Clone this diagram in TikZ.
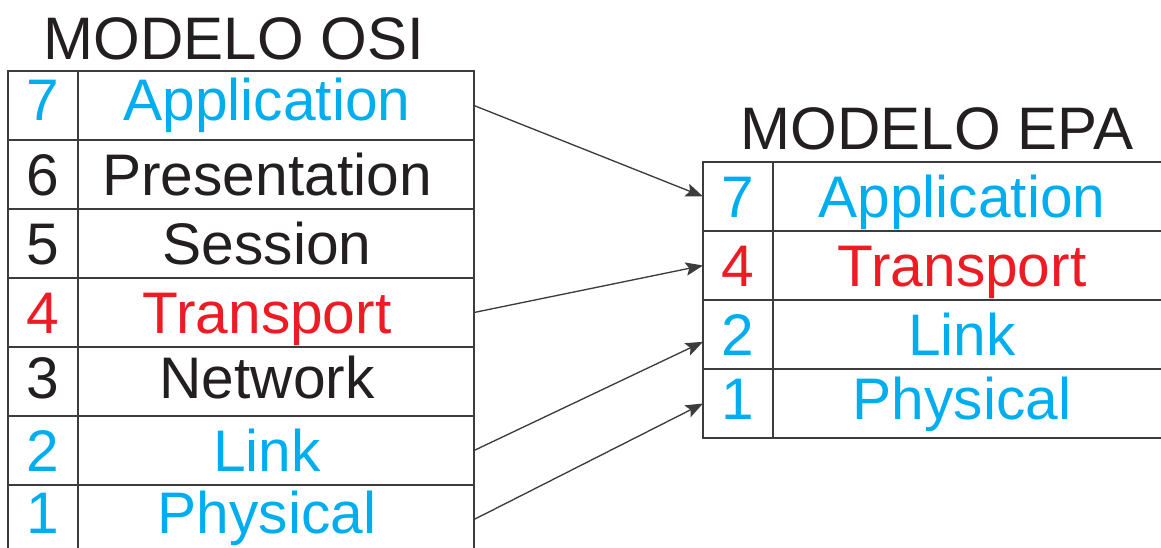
\documentclass[tikz,border=0pt]{standalone}
\usepackage{fontspec}
\setmainfont{Liberation Sans}
\usetikzlibrary{positioning, arrows.meta}
\definecolor{osiblue}{HTML}{00AEEF}
\definecolor{osired}{HTML}{ED1C24}
\definecolor{osiblack}{HTML}{231F20}
\definecolor{rulegray}{HTML}{3C3C3C}

\begin{document}
\begin{tikzpicture}[x=0.75pt, y=-0.75pt, node distance=0pt]
\tikzstyle{num} = [rectangle, draw=rulegray, line width=1.3pt, outer sep=0pt,
    inner sep=0pt, minimum width=52.5pt, minimum height=51.75pt,
    font=\fontsize{44}{44}\selectfont, text height=31.5pt, text depth=0pt]
\tikzstyle{layer} = [num, minimum width=297pt,
    execute at begin node={\hspace*{-13.5pt}}]
\tikzstyle{lift} = [text depth=#1]
\tikzstyle{title} = [font=\fontsize{45}{45}\selectfont, text=osiblack,
    inner sep=0pt, anchor=base]
\tikzstyle{line} = [draw=rulegray, line width=1pt,
    -{Stealth[length=13pt, width=10pt, inset=2.5pt]}]

\path[use as bounding box, clip] (0,0) rectangle (1161,547);

% OSI model
\node (osi) [title] at (234,59) {MODELO OSI};
\node (o7n) [num, text=osiblue, anchor=north west, lift=9pt] at (8,71) {7};
\node (o7) [layer, text=osiblue, right=of o7n, lift=9pt] {Application};
\node (o6n) [num, text=osiblack, below=of o7n] {6};
\node (o6) [layer, text=osiblack, right=of o6n] {Presentation};
\node (o5n) [num, text=osiblack, below=of o6n] {5};
\node (o5) [layer, text=osiblack, right=of o5n] {Session};
\node (o4n) [num, text=osired, below=of o5n] {4};
\node (o4) [layer, text=osired, right=of o4n] {Transport};
\node (o3n) [num, text=osiblack, below=of o4n, lift=6pt] {3};
\node (o3) [layer, text=osiblack, right=of o3n, lift=6pt] {Network};
\node (o2n) [num, text=osiblue, below=of o3n] {2};
\node (o2) [layer, text=osiblue, right=of o2n] {Link};
\node (o1n) [num, text=osiblue, below=of o2n, lift=10.5pt] {1};
\node (o1) [layer, text=osiblue, right=of o1n, lift=10.5pt] {Physical};

% EPA model
\node (epa) [title] at (937,149) {MODELO EPA};
\node (e7n) [num, text=osiblue, anchor=north west] at (703,162) {7};
\node (e7) [layer, text=osiblue, right=of e7n] {Application};
\node (e4n) [num, text=osired, below=of e7n] {4};
\node (e4) [layer, text=osired, right=of e4n] {Transport};
\node (e2n) [num, text=osiblue, below=of e4n] {2};
\node (e2) [layer, text=osiblue, right=of e2n] {Link};
\node (e1n) [num, text=osiblue, below=of e2n, lift=7.5pt] {1};
\node (e1) [layer, text=osiblue, right=of e1n, lift=7.5pt] {Physical};

\path[line] (o7.east) -- (e7n.west);
\path[line] (o4.east) -- (e4n.west);
\path[line] (o2.east) -- ([yshift=-5.5pt]e2n.west);
\path[line] (o1.east) -- (e1n.west);
\end{tikzpicture}
\end{document}
